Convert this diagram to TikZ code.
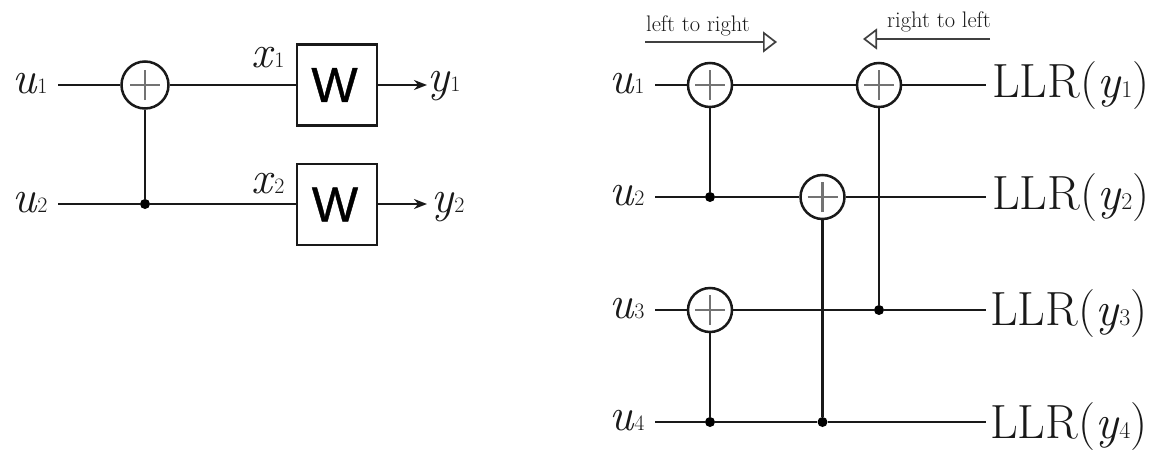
\documentclass[tikz,border=0pt]{standalone}
\usepackage{fontspec}
\usetikzlibrary{arrows.meta}
\newfontfamily\wfont[FakeBold=0.8]{Liberation Sans}
\newcommand{\sym}[2]{{\fontsize{46}{48}\selectfont\itshape #1\/}{\fontsize{22}{24}\selectfont #2}}
\newcommand{\llr}[1]{{\fontsize{48}{50}\selectfont LLR(\textit{y}{\fontsize{24}{26}\selectfont #1})}}
\tikzset{
  x=1pt,y=-1pt,
  wire/.style={line width=2.5pt,black!90},
  lab/.style={anchor=base west,inner sep=0pt,black!90},
  xorbig/.style={circle,draw=black!90,fill=white,line width=2.5pt,minimum size=47pt,inner sep=0pt,
    path picture={\draw[black!55,line width=2.2pt]
      ([xshift=-15pt]path picture bounding box.center)--([xshift=15pt]path picture bounding box.center)
      ([yshift=-15pt]path picture bounding box.center)--([yshift=15pt]path picture bounding box.center);}},
  xorsmall/.style={xorbig,minimum size=44pt},
  dotn/.style={circle,fill=black,inner sep=0pt,minimum size=10pt},
  wbox/.style={rectangle,draw=black!90,fill=white,line width=2.5pt,minimum width=80pt,minimum height=81pt,inner sep=0pt,font=\wfont\fontsize{49}{50}\selectfont},
  flow/.style={line width=1.6pt,black!75,-{Triangle[open,length=14pt,width=21pt,line width=1.7pt]}},
  small/.style={font=\fontsize{22.5}{24}\selectfont},
}
\begin{document}
\begin{tikzpicture}
\useasboundingbox (0,0) rectangle (1153,452);
% left diagram
\node[lab] (lu1) at (12,93) {\sym{u}{1}};
\node[lab] (lu2) at (12,212) {\sym{u}{2}};
\coordinate (a1) at (58,85);
\coordinate (a2) at (58,204);
\node[xorbig] (ax) at (145,85) {};
\node[dotn] (ad) at (145,204) {};
\node[wbox] (w1) at (337,85) {\hspace*{-5pt}W};
\node[wbox] (w2) at (337,204.5) {\hspace*{-4pt}W};
\coordinate (e1) at (427,85);
\coordinate (e2) at (427,204);
\draw[wire] (a1) -- (ax);
\draw[wire] (ax) -- (w1);
\draw[wire] (a2) -- (ad);
\draw[wire] (ad) -- (w2.west |- ad);
\draw[wire] (ax) -- (ad);
\draw[wire,-{Stealth[length=13pt,width=10pt]}] (w1.east |- e1) -- (e1);
\draw[wire,-{Stealth[length=13pt,width=10pt]}] (w2.east |- e2) -- (e2);
\node[lab] (lx1) at (251,67) {\sym{x}{1}};
\node[lab] (lx2) at (251,193) {\sym{x}{2}};
\node[lab] (ly1) at (427,92) {\sym{y}{1}};
\node[lab] (ly2) at (431,212) {\sym{y}{2}};
% right diagram
\node[lab] (ru1) at (609,93) {\sym{u}{1}};
\node[lab] (ru2) at (609,205) {\sym{u}{2}};
\node[lab] (ru3) at (609,318) {\sym{u}{3}};
\node[lab] (ru4) at (609,430) {\sym{u}{4}};
\coordinate (s1) at (655,85);
\coordinate (s2) at (655,197);
\coordinate (s3) at (655,310);
\coordinate (s4) at (655,422);
\coordinate (t1) at (986,85);
\coordinate (t2) at (986,197);
\coordinate (t3) at (986,310);
\coordinate (t4) at (986,422);
\node[xorsmall] (x11) at (710,85) {};
\node[xorsmall] (x12) at (879,85) {};
\node[xorsmall] (x2) at (822.5,197) {};
\node[xorsmall] (x3) at (710,310) {};
\node[dotn] (d2) at (710,197) {};
\node[dotn] (d3) at (879,310) {};
\node[dotn] (d41) at (710,422) {};
\node[dotn] (d42) at (822.5,422) {};
\draw[wire] (s1) -- (x11);
\draw[wire] (x11) -- (x12);
\draw[wire] (x12) -- (t1);
\draw[wire] (s2) -- (d2);
\draw[wire] (d2) -- (x2);
\draw[wire] (x2) -- (t2);
\draw[wire] (s3) -- (x3);
\draw[wire] (x3) -- (d3);
\draw[wire] (d3) -- (t3);
\draw[wire] (s4) -- (d41);
\draw[wire] (d41) -- (d42);
\draw[wire] (d42) -- (t4);
\draw[wire] (x11) -- (d2);
\draw[wire] (x12) -- (d3);
\draw[wire] (x3) -- (d41);
\draw[wire] (x2) -- (d42);
\node[lab] (o1) at (992,97) {\llr{1}};
\node[lab] (o2) at (992,209) {\llr{2}};
\node[lab] (o3) at (990,325) {\llr{3}};
\node[lab] (o4) at (990,438) {\llr{4}};
\coordinate (f1a) at (645,42);
\coordinate (f1b) at (777,42);
\coordinate (f2a) at (990,39);
\coordinate (f2b) at (863,39);
\draw[flow] (f1a) -- (f1b);
\draw[flow] (f2a) -- (f2b);
\node[lab,small] (tl) at (646,32) {left to right};
\node[lab,small] (tr) at (887,28) {right to left};
\end{tikzpicture}
\end{document}
